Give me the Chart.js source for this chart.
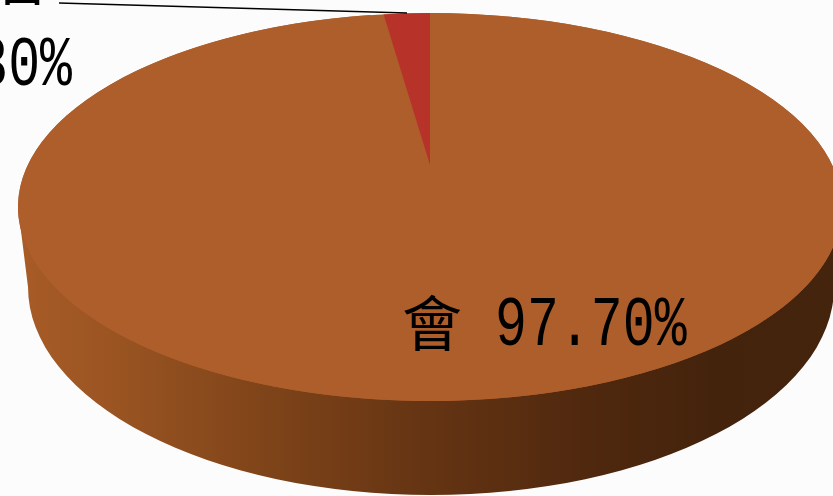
<!DOCTYPE html>
<html>
<head>
<meta charset="utf-8">
<style>
html,body{margin:0;padding:0;background:#fcfcfc;overflow:hidden}
canvas{display:block}
</style>
<script src="https://cdn.jsdelivr.net/npm/chart.js@4"></script>
</head>
<body>
<canvas id="c" width="833" height="496"></canvas>
<script>
const categories = ['會', '不會'];
const values = [97.7, 2.3];
const sliceColors = ['#ad5e2b', '#b7332a'];

// Perspective look: the face of the disc and the small slice use their own squash.
const FACE = {cx: 430, cy: 207, rx: 412, ry: 194};
const SMALL = {cx: 430, cy: 165, rx: 322, ry: 152};
const FLOOR = {cx: 431, cy: 287, rx: 403, ry: 208};
const WALL_STOPS = [[0,'#a85c27'],[0.12,'#9a5422'],[0.3,'#7f4419'],[0.5,'#653413'],[0.7,'#4f280e'],[0.85,'#44230c'],[1,'#45240d']];

function squash(ctx, arc, t) {
  const r = arc.outerRadius;
  ctx.translate(t.cx, t.cy);
  ctx.scale(t.rx / r, t.ry / r);
  ctx.translate(-arc.x, -arc.y);
}

const disc3d = {
  id: 'disc3d',
  beforeDatasetsDraw(chart) {
    const ctx = chart.ctx;
    const arcs = chart.getDatasetMeta(0).data;
    const g = ctx.createLinearGradient(18, 0, 835, 0);
    WALL_STOPS.forEach(s => g.addColorStop(s[0], s[1]));
    ctx.save();
    ctx.fillStyle = g;
    ctx.beginPath();
    ctx.ellipse(FLOOR.cx, FLOOR.cy, FLOOR.rx, FLOOR.ry, 0, 0, Math.PI);
    ctx.lineTo(FACE.cx - FACE.rx, FACE.cy);
    ctx.lineTo(FACE.cx + FACE.rx, FACE.cy);
    ctx.closePath();
    ctx.fill();
    ctx.fillStyle = sliceColors[0];
    ctx.beginPath();
    ctx.ellipse(FACE.cx, FACE.cy, FACE.rx, FACE.ry, 0, 0, Math.PI * 2);
    ctx.fill();
    ctx.restore();
    ctx.save();
    squash(ctx, arcs[0], FACE);
    arcs[0].draw(ctx);
    ctx.restore();
    ctx.save();
    squash(ctx, arcs[1], SMALL);
    arcs[1].draw(ctx);
    ctx.restore();
    return false;
  },
  afterDraw(chart) {
    const ctx = chart.ctx;
    ctx.save();
    ctx.strokeStyle = '#000';
    ctx.lineWidth = 1.7;
    ctx.beginPath();
    ctx.moveTo(59, 3);
    ctx.lineTo(407, 13);
    ctx.stroke();
    ctx.fillStyle = '#000';
    ctx.textBaseline = 'alphabetic';
    const cjk = '60px "Noto Sans CJK TC"';
    const num = '70px "Liberation Mono"';
    const pct = v => v.toFixed(2) + '%';
    const stretched = (text, x, y, sx) => {
      ctx.save();
      ctx.translate(x, y);
      ctx.scale(sx, 1);
      ctx.fillText(text, 0, 0);
      ctx.restore();
    };
    ctx.textAlign = 'left';
    ctx.font = cjk;
    ctx.fillText(categories[0], 402, 346);
    ctx.font = num;
    stretched(pct(values[0]), 495, 345, 0.76);
    ctx.textAlign = 'right';
    ctx.font = cjk;
    ctx.fillText(categories[1], 52, 0);
    ctx.font = num;
    stretched(pct(values[1]), 72, 85, 0.76);
    ctx.restore();
  }
};

new Chart(document.getElementById('c'), {
  type: 'pie',
  data: {
    labels: categories,
    datasets: [{data: values, backgroundColor: sliceColors, borderWidth: 0}]
  },
  options: {
    responsive: false,
    animation: false,
    layout: {padding: {left: 27, top: 13, bottom: 95, right: 0}},
    plugins: {legend: {display: false}, tooltip: {enabled: false}}
  },
  plugins: [disc3d]
});
</script>
</body>
</html>
